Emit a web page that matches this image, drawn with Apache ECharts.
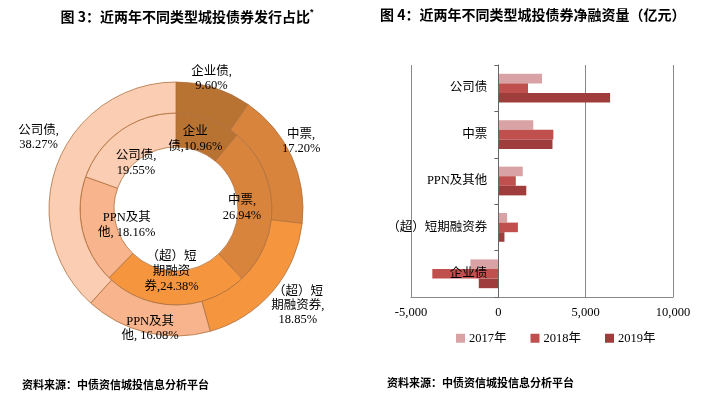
<!DOCTYPE html>
<html>
<head>
<meta charset="utf-8">
<script src="https://cdn.jsdelivr.net/npm/echarts@6/dist/echarts.min.js"></script>
<style>
html,body{margin:0;padding:0;background:#fff;}
#c{width:726px;height:393px;}
</style>
</head>
<body>
<div id="c"></div>
<script>
// ---- Pie data (figure 3) ----
const pieNames = ['企业债', '中票', '（超）短期融资券', 'PPN及其他', '公司债'];
const shareOuter = [9.60, 17.20, 18.85, 16.08, 38.27];
const shareInner = [10.96, 26.94, 24.38, 18.16, 19.55];
// label text wrapping (text only)
const innerLabelPrefix = ['企业\n债,', '中票,\n', '（超）短\n期融资\n券,', 'PPN及其\n他, ', '公司债,\n'];
const outerLabelPrefix = ['企业债,\n', '中票,\n', '（超）短\n期融资券,\n', 'PPN及其\n他, ', '公司债,\n'];

// ---- Bar data (figure 4) ----
const categories = ['公司债', '中票', 'PPN及其他', '（超）短期融资券', '企业债'];
const years = ['2017年', '2018年', '2019年'];
const net2017 = [2500, 2000, 1400, 500, -1600];
const net2018 = [1700, 3150, 1000, 1120, -3780];
const net2019 = [6400, 3100, 1600, 350, -1120];
const xTicks = [-5000, 0, 5000, 10000];

const pieColors = ['#B87333', '#D9843D', '#F5963F', '#F7B48D', '#FBCEB4'];
const barColors = ['#D9A3A5', '#C0504D', '#9E3D3B'];
const serif = '"Liberation Serif", "Times New Roman", "Noto Sans CJK SC", serif';
const center = [176, 209];

// label nudges (styling only)
const outerOffsets = [[-7, 6], [-5, -8], [13, 4], [7, -19], [-4, -20]];
const innerOffsets = [[-3, -8], [0, 2], [-4, -3], [15, 1], [-2, 8]];

function pieData(vals) {
  return vals.map((v, i) => ({ name: pieNames[i], value: v, itemStyle: { color: pieColors[i] } }));
}
function labelData(vals, offsets) {
  return vals.map((v, i) => ({ name: pieNames[i], value: v, label: { offset: offsets[i] } }));
}
const pctLabel = function (prefixes) {
  return function (p) { return prefixes[p.dataIndex] + p.value.toFixed(2) + '%'; };
};

const chart = echarts.init(document.getElementById('c'), null, { renderer: 'canvas' });
chart.setOption({
  animation: false,
  title: [
    {
      text: '{t|图 3：近两年不同类型城投债券发行占比}{s|*}',
      left: 182, top: 3, textAlign: 'center',
      textStyle: { rich: {
        t: { fontSize: 14, fontWeight: 'bold', color: '#000', fontFamily: '"Noto Sans CJK SC", sans-serif' },
        s: { fontSize: 9, fontWeight: 'bold', color: '#000', verticalAlign: 'top', padding: [0, 0, 8, 0] }
      } }
    },
    {
      text: '图 4：近两年不同类型城投债券净融资量（亿元）',
      left: 375, top: 3,
      textStyle: { fontSize: 14, fontWeight: 'bold', color: '#000', fontFamily: '"Noto Sans CJK SC", sans-serif' }
    },
    {
      text: '资料来源：中债资信城投信息分析平台',
      left: 17, top: 374,
      textStyle: { fontSize: 11, fontWeight: 'bold', color: '#000', fontFamily: '"Noto Sans CJK SC", sans-serif' }
    },
    {
      text: '资料来源：中债资信城投信息分析平台',
      left: 382, top: 372,
      textStyle: { fontSize: 11, fontWeight: 'bold', color: '#000', fontFamily: '"Noto Sans CJK SC", sans-serif' }
    }
  ],
  legend: {
    data: years,
    left: 451, top: 327,
    itemWidth: 9, itemHeight: 9, itemGap: 24,
    icon: 'rect',
    textStyle: { fontSize: 12.5, color: '#000', fontFamily: serif, padding: [0, 0, 0, -1] }
  },
  grid: { left: 411, right: 53, top: 65, bottom: 96, containLabel: false },
  xAxis: {
    type: 'value', min: -5000, max: 10000, interval: 5000,
    axisLine: { show: true, onZero: false, lineStyle: { color: '#888', width: 1 } },
    axisTick: { show: false },
    splitLine: { show: true, lineStyle: { color: '#888', width: 1 } },
    axisLabel: {
      margin: 9, fontSize: 12.5, color: '#000', fontFamily: serif,
      formatter: v => (xTicks.indexOf(v) >= 0 ? v.toLocaleString('en-US') : '')
    }
  },
  yAxis: {
    type: 'category', data: categories, inverse: true, position: 'left', offset: 0,
    axisLine: { show: true, onZero: false, lineStyle: { color: '#666', width: 1 } },
    axisTick: { show: true, inside: false, length: 4, lineStyle: { color: '#666' } },
    axisLabel: { margin: 11, fontSize: 12.5, color: '#000', fontFamily: serif },
    splitLine: { show: false },
    z: 5
  },
  series: [
    {
      type: 'pie', radius: [62, 96], center: center, silent: true,
      data: pieData(shareInner),
      itemStyle: { borderColor: '#B0703C', borderWidth: 0.8 },
      label: { show: false }, labelLine: { show: false }
    },
    {
      type: 'pie', radius: [96, 127], center: center, silent: true,
      data: pieData(shareOuter),
      itemStyle: { borderColor: '#B0703C', borderWidth: 0.8 },
      label: { show: false }, labelLine: { show: false }
    },
    {
      type: 'pie', radius: [30, 96], center: center, silent: true,
      data: labelData(shareInner, innerOffsets),
      itemStyle: { color: 'rgba(0,0,0,0)' },
      label: {
        show: true, position: 'inside', formatter: pctLabel(innerLabelPrefix),
        fontSize: 12.5, lineHeight: 15, color: '#000', fontFamily: serif, align: 'center'
      },
      labelLine: { show: false }
    },
    {
      type: 'pie', radius: [125, 155], center: center, silent: true,
      data: labelData(shareOuter, outerOffsets),
      itemStyle: { color: 'rgba(0,0,0,0)' },
      label: {
        show: true, position: 'inside', formatter: pctLabel(outerLabelPrefix),
        fontSize: 12.5, lineHeight: 14, color: '#000', fontFamily: serif, align: 'center'
      },
      labelLine: { show: false }
    },
    { name: years[0], type: 'bar', data: net2017, itemStyle: { color: barColors[0] }, barGap: '0%', barCategoryGap: '38%' },
    { name: years[1], type: 'bar', data: net2018, itemStyle: { color: barColors[1] }, barGap: '0%', barCategoryGap: '38%' },
    { name: years[2], type: 'bar', data: net2019, itemStyle: { color: barColors[2] }, barGap: '0%', barCategoryGap: '38%' }
  ]
});
// Move the category axis (line, ticks, labels) onto the value-axis zero, using the library's own scale
const xZero = chart.convertToPixel({ xAxisIndex: 0 }, 0);
const xMin = chart.convertToPixel({ xAxisIndex: 0 }, xTicks[0]);
chart.setOption({ yAxis: { offset: -(xZero - xMin) } });
</script>
</body>
</html>
